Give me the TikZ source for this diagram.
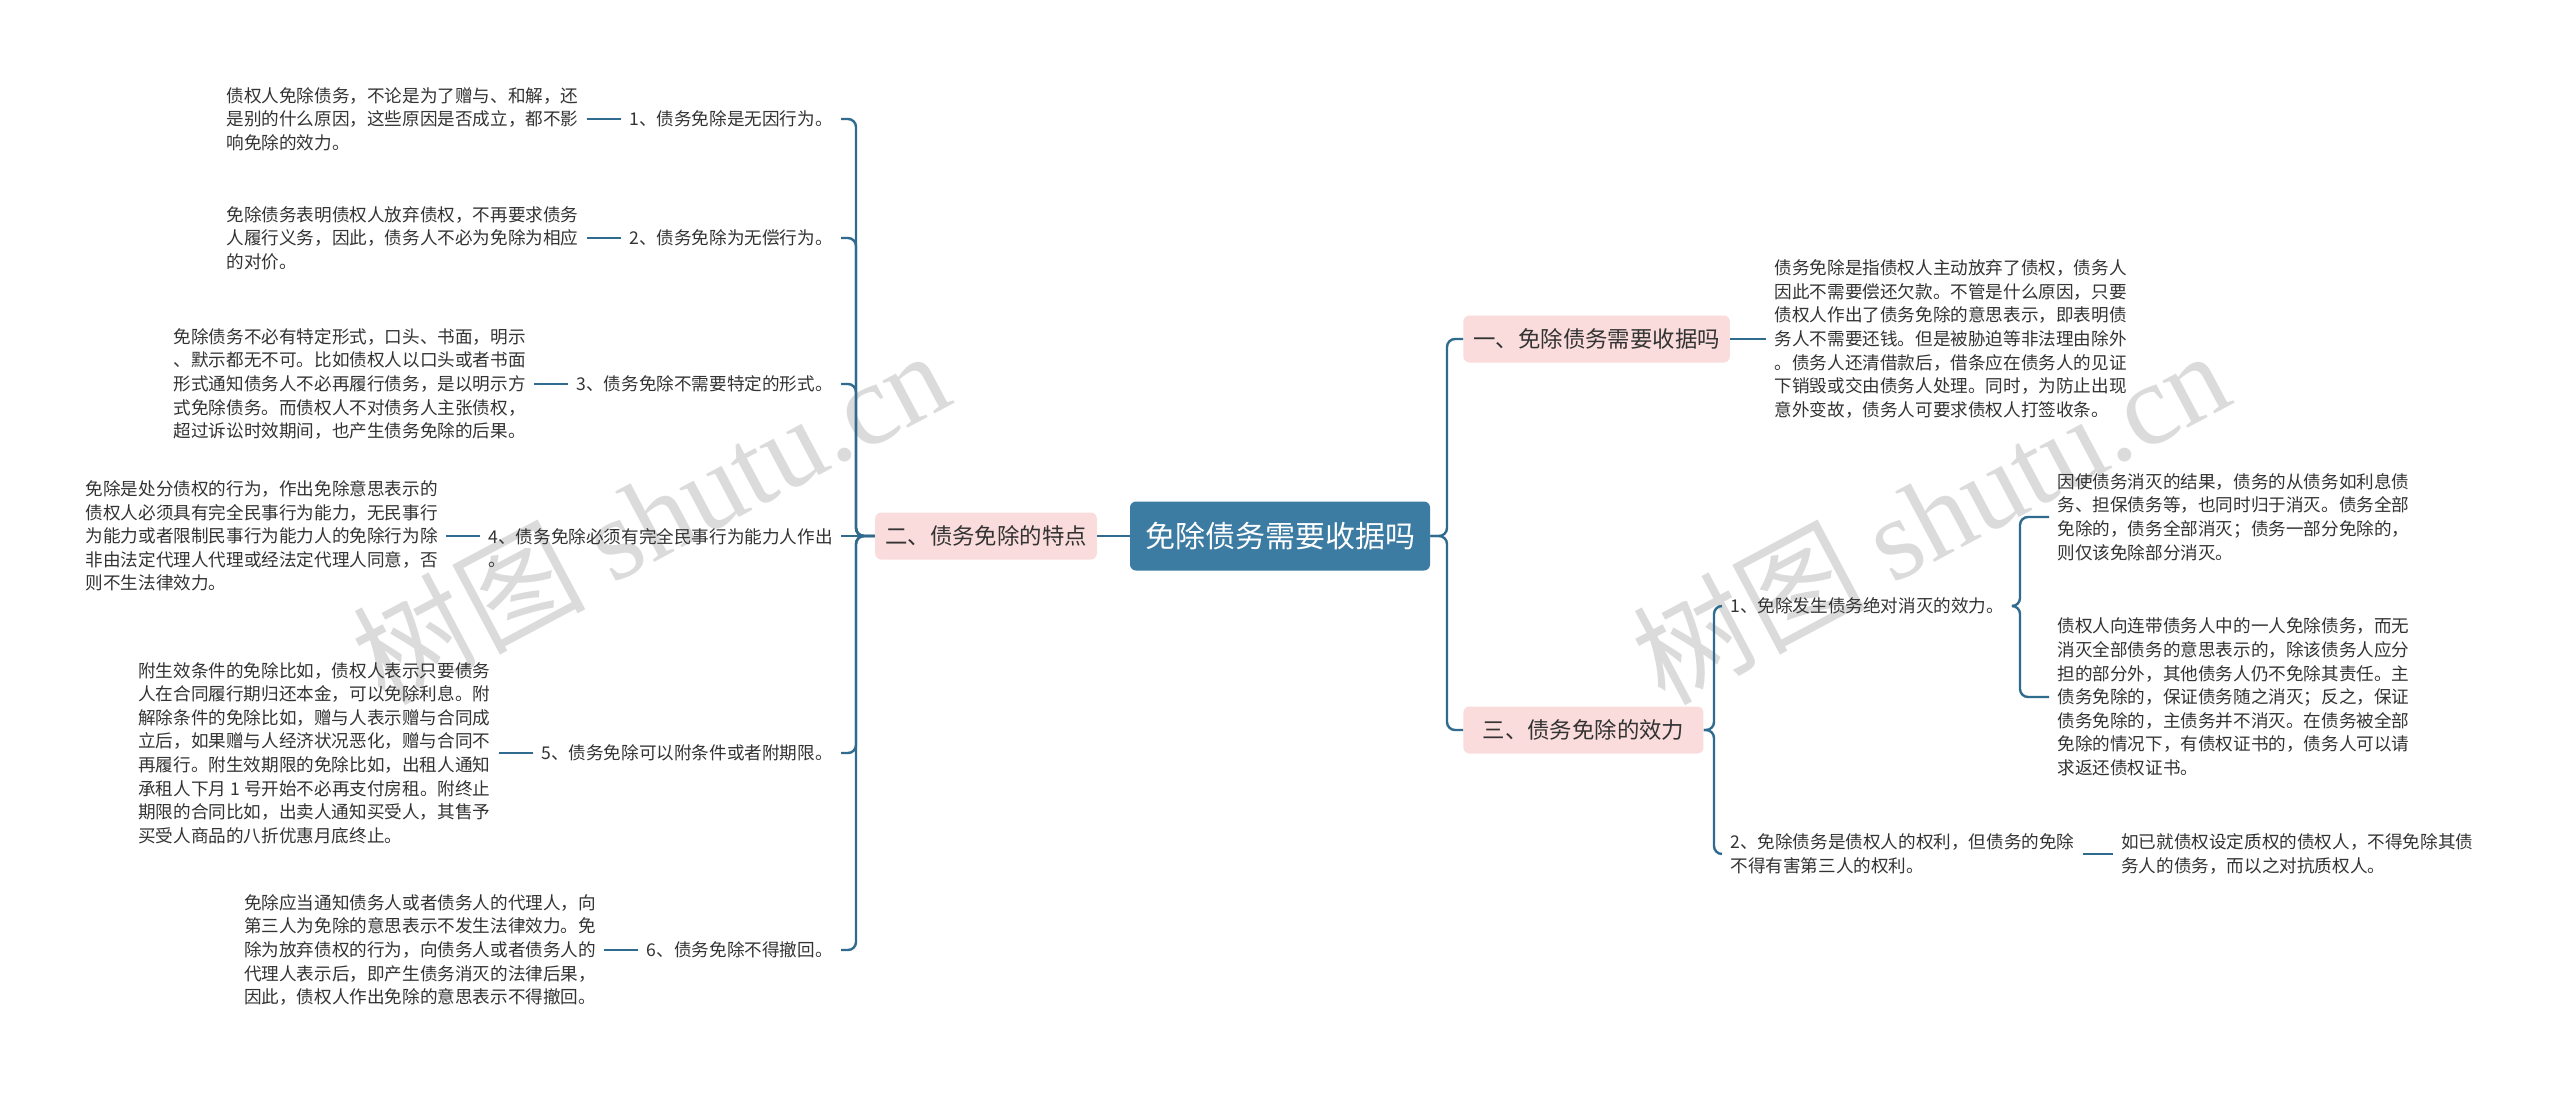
\documentclass[tikz,border=0pt]{standalone}
\usepackage{fontspec}
\setmainfont{Noto Sans CJK SC}
\newfontfamily\markfont{Liberation Serif}
\usetikzlibrary{positioning}

\definecolor{rootblue}{HTML}{3C7BA2}
\definecolor{linkblue}{HTML}{2E6B8F}
\definecolor{topicpink}{HTML}{FADCDC}
\definecolor{inkgray}{HTML}{333333}

\begin{document}
\begin{tikzpicture}[
        x=0.5pt, y=-0.5pt,
        font=\fontsize{8.8pt}{11.8pt}\selectfont,
        text=inkgray,
        root/.style={
            fill=rootblue, rounded corners=3pt, text=white,
            font=\fontsize{15pt}{18pt}\selectfont,
            minimum width=150pt, minimum height=34.5pt
        },
        topic/.style={
            fill=topicpink, rounded corners=3pt,
            font=\fontsize{11.2pt}{13pt}\selectfont,
            minimum height=23.5pt, inner xsep=5pt
        },
        sub/.style={inner xsep=4pt, inner ysep=2pt, align=left},
        leaf/.style={inner xsep=4pt, inner ysep=2pt, align=left},
        link/.style={linkblue, line width=1.2pt, rounded corners=4pt},
        wmark/.style={text=gray!28, font=\fontsize{58pt}{58pt}\selectfont, rotate=28},
        node distance=17pt
    ]

    % Canvas
    \fill[white] (0,0) rectangle (2560,1093);
    \useasboundingbox (0,0) rectangle (2560,1093);

    % Watermarks
    \node[wmark] (wmleft)  at (650,515)  {树图 {\markfont shutu.cn}};
    \node[wmark] (wmright) at (1930,515) {树图 {\markfont shutu.cn}};

    % Root and main topics
    \node[root] (root) at (1280,536) {免除债务需要收据吗};
    \node[topic] (two) at (986,536) {二、债务免除的特点};
    \node[topic, anchor=west] (one) at (1463,339) {一、免除债务需要收据吗};
    \node[topic, anchor=west, minimum width=120pt] (three) at (1463,730) {三、债务免除的效力};

    % Left: features
    \node[sub, anchor=east] (i1) at (841,119) {1、债务免除是无因行为。};
    \node[sub, anchor=east] (i2) at (841,238) {2、债务免除为无偿行为。};
    \node[sub, anchor=east] (i3) at (841,384) {3、债务免除不需要特定的形式。};
    \node[sub, anchor=east] (i4) at (841,548) {4、债务免除必须有完全民事行为能力人作出\\。};
    \node[sub, anchor=east] (i5) at (841,753) {5、债务免除可以附条件或者附期限。};
    \node[sub, anchor=east] (i6) at (841,950) {6、债务免除不得撤回。};

    \node[leaf, left=of i1] (d1) {债权人免除债务，不论是为了赠与、和解，还\\是别的什么原因，这些原因是否成立，都不影\\响免除的效力。};
    \node[leaf, left=of i2] (d2) {免除债务表明债权人放弃债权，不再要求债务\\人履行义务，因此，债务人不必为免除为相应\\的对价。};
    \node[leaf, left=of i3] (d3) {免除债务不必有特定形式，口头、书面，明示\\、默示都无不可。比如债权人以口头或者书面\\形式通知债务人不必再履行债务，是以明示方\\式免除债务。而债权人不对债务人主张债权，\\超过诉讼时效期间，也产生债务免除的后果。};
    \node[leaf, anchor=east] (d4) at ([xshift=-17pt,yshift=6pt]i4.west) {免除是处分债权的行为，作出免除意思表示的\\债权人必须具有完全民事行为能力，无民事行\\为能力或者限制民事行为能力人的免除行为除\\非由法定代理人代理或经法定代理人同意，否\\则不生法律效力。};
    \node[leaf, left=of i5] (d5) {附生效条件的免除比如，债权人表示只要债务\\人在合同履行期归还本金，可以免除利息。附\\解除条件的免除比如，赠与人表示赠与合同成\\立后，如果赠与人经济状况恶化，赠与合同不\\再履行。附生效期限的免除比如，出租人通知\\承租人下月 1 号开始不必再支付房租。附终止\\期限的合同比如，出卖人通知买受人，其售予\\买受人商品的八折优惠月底终止。};
    \node[leaf, left=of i6] (d6) {免除应当通知债务人或者债务人的代理人，向\\第三人为免除的意思表示不发生法律效力。免\\除为放弃债权的行为，向债务人或者债务人的\\代理人表示后，即产生债务消灭的法律后果，\\因此，债权人作出免除的意思表示不得撤回。};

    % Right: receipt
    \node[leaf, right=18pt of one] (r1) {债务免除是指债权人主动放弃了债权，债务人\\因此不需要偿还欠款。不管是什么原因，只要\\债权人作出了债务免除的意思表示，即表明债\\务人不需要还钱。但是被胁迫等非法理由除外\\。债务人还清借款后，借条应在债务人的见证\\下销毁或交由债务人处理。同时，为防止出现\\意外变故，债务人可要求债权人打签收条。};

    % Right: effect
    \node[sub, anchor=west] (r3a) at (1722,606) {1、免除发生债务绝对消灭的效力。};
    \node[sub, anchor=west] (r3b) at (1722,854) {2、免除债务是债权人的权利，但债务的免除\\不得有害第三人的权利。};
    \node[leaf, anchor=west] (la) at (2049,517) {因使债务消灭的结果，债务的从债务如利息债\\务、担保债务等，也同时归于消灭。债务全部\\免除的，债务全部消灭；债务一部分免除的，\\则仅该免除部分消灭。};
    \node[leaf, anchor=west] (lb) at (2049,697) {债权人向连带债务人中的一人免除债务，而无\\消灭全部债务的意思表示的，除该债务人应分\\担的部分外，其他债务人仍不免除其责任。主\\债务免除的，保证债务随之消灭；反之，保证\\债务免除的，主债务并不消灭。在债务被全部\\免除的情况下，有债权证书的，债务人可以请\\求返还债权证书。};
    \node[leaf, right=15pt of r3b] (rb) {如已就债权设定质权的债权人，不得免除其债\\务人的债务，而以之对抗质权人。};

    % Spines
    \coordinate (lsp) at (856,536);
    \coordinate (rsp) at (1447,536);
    \coordinate (sp3) at (1714,730);
    \coordinate (sp3a) at (2020,606);

    \draw[link] (root) -- (two);
    \draw[link] (two.west) -- (lsp) |- (i1.east);
    \draw[link] (two.west) -- (lsp) |- (i2.east);
    \draw[link] (two.west) -- (lsp) |- (i3.east);
    \draw[link] (two.west) -- ([yshift=6pt]i4.east);
    \draw[link] (two.west) -- (lsp) |- (i5.east);
    \draw[link] (two.west) -- (lsp) |- (i6.east);

    \draw[link] (d1) -- (i1);
    \draw[link] (d2) -- (i2);
    \draw[link] (d3) -- (i3);
    \draw[link] (d4.east) -- (d4.east -| i4.west);
    \draw[link] (d5) -- (i5);
    \draw[link] (d6) -- (i6);

    \draw[link] (root.east) -- (rsp) |- (one.west);
    \draw[link] (root.east) -- (rsp) |- (three.west);
    \draw[link] (one) -- (r1);

    \draw[link] (three.east) -- (sp3) |- (r3a.west);
    \draw[link] (three.east) -- (sp3) |- (r3b.west);
    \draw[link] (r3a.east) -- (sp3a) |- (la.west);
    \draw[link] (r3a.east) -- (sp3a) |- (lb.west);
    \draw[link] (r3b) -- (rb);

\end{tikzpicture}
\end{document}
